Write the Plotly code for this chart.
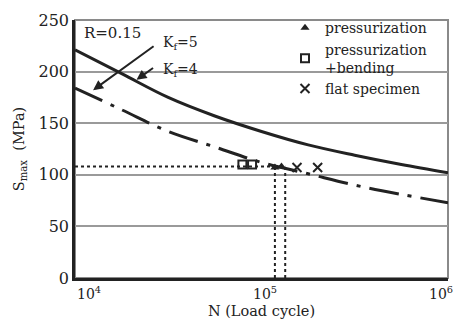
import math
import plotly.graph_objects as go

# ---- data ----
N_curve = [1.0e4, 1.78e4, 3.16e4, 5.62e4, 1.0e5, 1.78e5, 3.16e5, 5.62e5, 1.0e6]
S_kf4 = [221, 198, 175, 157, 142, 129, 119, 110, 102]
S_kf5 = [184, 163, 142, 127, 112, 101, 90, 81, 73]

guide_S = 108
guide_N = [1.0e4, 1.34e5]
vline_N = [1.18e5, 1.34e5]

tri_N = [1.18e5, 1.28e5]
tri_S = [107, 108]
sq_N = [7.9e4, 8.9e4]
sq_S = [110, 110]
x_N = [1.55e5, 2.0e5]
x_S = [107, 107]

y_ticks = [0, 50, 100, 150, 200, 250]
x_ticks = [1e4, 1e5, 1e6]
x_tick_text = ["10<sup>4</sup>", "10<sup>5</sup>", "10<sup>6</sup>"]
x_tick_shift = [14, 3, -7]   # label offsets as in the reference

FONT = "DejaVu Serif"
INK = "#222222"

fig = go.Figure()

# S-N curves
fig.add_trace(go.Scatter(x=N_curve, y=S_kf4, mode="lines", line=dict(color=INK, width=3, shape="spline"),
                         showlegend=False))
fig.add_trace(go.Scatter(x=N_curve, y=S_kf5, mode="lines",
                         line=dict(color=INK, width=3, shape="spline", dash="30px,9px,4px,9px"),
                         showlegend=False))

# dotted guide lines
fig.add_trace(go.Scatter(x=guide_N, y=[guide_S, guide_S], mode="lines",
                         line=dict(color=INK, width=2, dash="dot"), showlegend=False))
for vn in vline_N:
    fig.add_trace(go.Scatter(x=[vn, vn], y=[0, guide_S], mode="lines",
                             line=dict(color=INK, width=2, dash="dot"), showlegend=False))

# experimental points
fig.add_trace(go.Scatter(x=tri_N, y=tri_S, mode="markers", name="pressurization",
                         marker=dict(symbol="triangle-up", size=8, color=INK)))
fig.add_trace(go.Scatter(x=sq_N, y=sq_S, mode="markers", name="pressurization<br>+bending",
                         marker=dict(symbol="square-open", size=8, color=INK, line=dict(width=2))))
fig.add_trace(go.Scatter(x=x_N, y=x_S, mode="markers", name="flat specimen",
                         marker=dict(symbol="x-thin-open", size=9, color=INK, line=dict(width=2, color=INK))))

# plot frame (grey top/right)
fig.add_shape(type="rect", xref="paper", yref="paper", x0=0, x1=1, y0=0, y1=1,
              line=dict(color="#8a8a8a", width=2), layer="below")

# x tick labels (log axis -> annotation x in log10 units)
for v, t, s in zip(x_ticks, x_tick_text, x_tick_shift):
    fig.add_annotation(x=math.log10(v), y=0, xref="x", yref="paper", text=t, showarrow=False,
                       xanchor="center", yanchor="top", xshift=s, yshift=-4,
                       font=dict(family=FONT, size=14, color=INK))

# annotations
fig.add_annotation(x=4.04, y=237, text="R=0.15", showarrow=False, xanchor="left",
                   font=dict(family=FONT, size=15, color=INK))
fig.add_annotation(x=4.46, y=228, text="K<sub>f</sub>=5", showarrow=False, xanchor="left",
                   font=dict(family=FONT, size=14, color=INK))
fig.add_annotation(x=4.46, y=202, text="K<sub>f</sub>=4", showarrow=False, xanchor="left",
                   font=dict(family=FONT, size=14, color=INK))
fig.add_annotation(x=4.097, y=182, ax=62, ay=-45, text="", showarrow=True,
                   arrowhead=2, arrowsize=1, arrowwidth=2, arrowcolor=INK)
fig.add_annotation(x=4.33, y=192, ax=18, ay=-13, text="", showarrow=True,
                   arrowhead=2, arrowsize=1, arrowwidth=2, arrowcolor=INK)

fig.update_layout(
    width=464, height=325,
    margin=dict(l=67, r=24, t=12, b=55, autoexpand=False),
    paper_bgcolor="white", plot_bgcolor="white",
    font=dict(family=FONT, size=15, color=INK),
    legend=dict(x=0.563, y=1.03, xanchor="left", yanchor="top", bgcolor="rgba(0,0,0,0)",
                font=dict(family=FONT, size=14, color=INK), tracegroupgap=0, itemwidth=30),
    xaxis=dict(type="log", range=[4, 6], tickvals=x_ticks, showticklabels=False,
               showgrid=False, showline=True, linecolor=INK, linewidth=2.5, ticks="",
               zeroline=False, automargin=False,
               title=dict(text="N (Load cycle)", font=dict(family=FONT, size=14.5), standoff=27)),
    yaxis=dict(range=[0, 250], tickvals=y_ticks, showgrid=True, gridcolor="#9a9a9a", gridwidth=1.5,
               showline=True, linecolor=INK, linewidth=2.5, ticks="", zeroline=False, automargin=False,
               tickfont=dict(family=FONT, size=16),
               title=dict(text="S<sub>max</sub>  (MPa)", font=dict(family=FONT, size=14.5), standoff=11)),
)

fig.write_html("out.html")
